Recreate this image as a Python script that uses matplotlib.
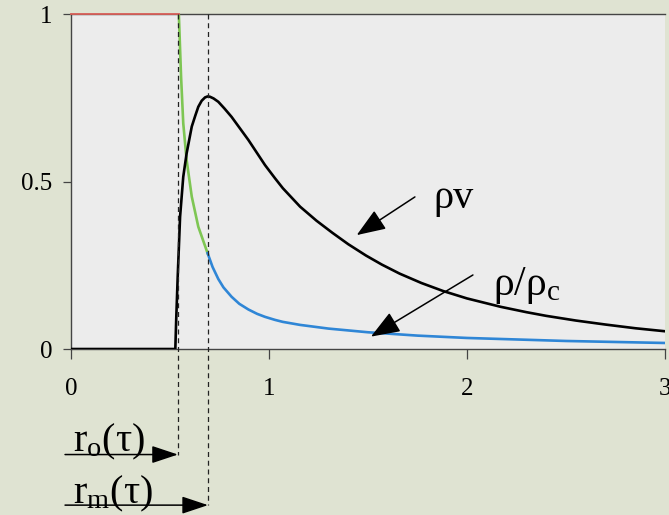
import matplotlib
matplotlib.use("Agg")
import matplotlib.pyplot as plt

plt.rcParams['font.family'] = ['Liberation Serif', 'DejaVu Serif']
plt.rcParams['mathtext.fontset'] = 'custom'
plt.rcParams['mathtext.rm'] = 'Liberation Serif'
plt.rcParams['mathtext.it'] = 'Liberation Serif:italic'

# --- data ---
# rho*v (black)
rv_x = [0.0, 0.50, 0.527, 0.531, 0.539, 0.551, 0.567, 0.584, 0.61, 0.628, 0.643, 0.66, 0.677,
        0.69, 0.702, 0.72, 0.744, 0.775, 0.811, 0.896, 0.98, 1.03, 1.07, 1.157, 1.24, 1.32,
        1.40, 1.49, 1.57, 1.66, 1.77, 1.88, 2.0, 2.17, 2.30, 2.40, 2.55, 2.70, 2.85, 3.0]
rv_y = [0.0, 0.0, 0.0, 0.08, 0.216, 0.395, 0.514, 0.584, 0.664, 0.697, 0.723, 0.741, 0.751,
        0.754, 0.753, 0.748, 0.738, 0.718, 0.693, 0.624, 0.549, 0.51, 0.48, 0.425, 0.383, 0.347,
        0.313, 0.279, 0.252, 0.225, 0.197, 0.173, 0.151, 0.126, 0.110, 0.099, 0.085, 0.073, 0.062, 0.053]
# rho/rho_c: inside core (red), collapsing part (green), envelope (blue)
red_x = [0.0, 0.545]
red_y = [1.0, 1.0]
green_x = [0.545, 0.556, 0.567, 0.584, 0.61, 0.643, 0.69]
green_y = [0.995, 0.813, 0.674, 0.564, 0.455, 0.365, 0.286]
blue_x = [0.69, 0.715, 0.744, 0.77, 0.811, 0.85, 0.896, 0.94, 0.98, 1.03, 1.07, 1.157,
          1.30, 1.50, 1.75, 2.0, 2.5, 3.0]
blue_y = [0.286, 0.245, 0.209, 0.184, 0.156, 0.135, 0.118, 0.105, 0.096, 0.087, 0.081, 0.072,
          0.061, 0.050, 0.040, 0.033, 0.024, 0.018]
r_o = 0.54
r_m = 0.692
x_ticks = [0, 1, 2, 3]
y_ticks = [0, 0.5, 1]
y_tick_labels = ['0', '0.5', '1']

fig_bg = '#dfe3d2'
ax_bg = '#ececec'

fig = plt.figure(figsize=(6.69, 5.15), dpi=100, facecolor=fig_bg)
ax = fig.add_axes([0.1061, 0.3223, 0.8879, 0.6505], facecolor=ax_bg)
ax.set_xlim(0, 3)
ax.set_ylim(0, 1)

ax.plot(rv_x, rv_y, color='black', lw=1.9, zorder=4, solid_joinstyle='round')
ax.plot(red_x, red_y, color='#d9605a', lw=1.3, zorder=5, clip_on=False)
ax.plot(green_x, green_y, color='#7ec653', lw=1.9, zorder=3, solid_joinstyle='round')
ax.plot(blue_x, blue_y, color='#2f86d6', lw=1.9, zorder=3, solid_joinstyle='round')

# dashed guide lines for r_o and r_m
y_ro = -0.315
y_rm = -0.466
ax.plot([r_o, r_o], [1, y_ro], ls=(0, (4, 3)), color='#222222', lw=0.9, clip_on=False, zorder=6)
ax.plot([r_m, r_m], [1, y_rm], ls=(0, (4, 3)), color='#222222', lw=0.9, clip_on=False, zorder=6)

arrow_kw = dict(arrowstyle='-|>,head_length=0.9,head_width=0.3', color='black', lw=1.1,
                mutation_scale=18, shrinkA=0, shrinkB=0)
ax.annotate('', xy=(r_o, y_ro), xytext=(-0.03, y_ro), arrowprops=arrow_kw, annotation_clip=False)
ax.annotate('', xy=(r_m, y_rm), xytext=(-0.03, y_rm), arrowprops=arrow_kw, annotation_clip=False)
ax.text(0.012, y_ro + 0.01, r'r$_\mathrm{o}$(τ)', fontsize=29, ha='left', va='baseline', clip_on=False)
ax.text(0.012, y_rm + 0.006, r'r$_\mathrm{m}$(τ)', fontsize=29, ha='left', va='baseline', clip_on=False)

# curve labels
lab_arrow = dict(arrowstyle='-|>,head_length=1.0,head_width=0.38', color='black', lw=1.1,
                 mutation_scale=18, shrinkA=0, shrinkB=0)
ax.annotate('', xy=(1.443, 0.34), xytext=(1.737, 0.454), arrowprops=lab_arrow, zorder=7)
ax.annotate('', xy=(1.515, 0.037), xytext=(2.03, 0.221), arrowprops=lab_arrow, zorder=7)
ax.text(1.83, 0.421, 'ρv', fontsize=29, ha='left', va='baseline')
ax.text(2.13, 0.161, r'ρ/ρ$_\mathrm{c}$', fontsize=30, ha='left', va='baseline')

# axes styling
for s in ['left', 'bottom', 'top']:
    ax.spines[s].set_color('#444444')
    ax.spines[s].set_linewidth(1.0)
ax.spines['right'].set_visible(False)
ax.set_xticks(x_ticks)
ax.set_xticklabels([str(t) for t in x_ticks])
ax.set_yticks(y_ticks)
ax.set_yticklabels(y_tick_labels)
ax.tick_params(axis='x', direction='out', length=7, width=0.9, color='#444444', pad=14, labelsize=18)
ax.tick_params(axis='y', direction='out', length=6, width=0.9, color='#444444', pad=7.5, labelsize=18)

fig.savefig('out.png', dpi=100, facecolor=fig_bg)
